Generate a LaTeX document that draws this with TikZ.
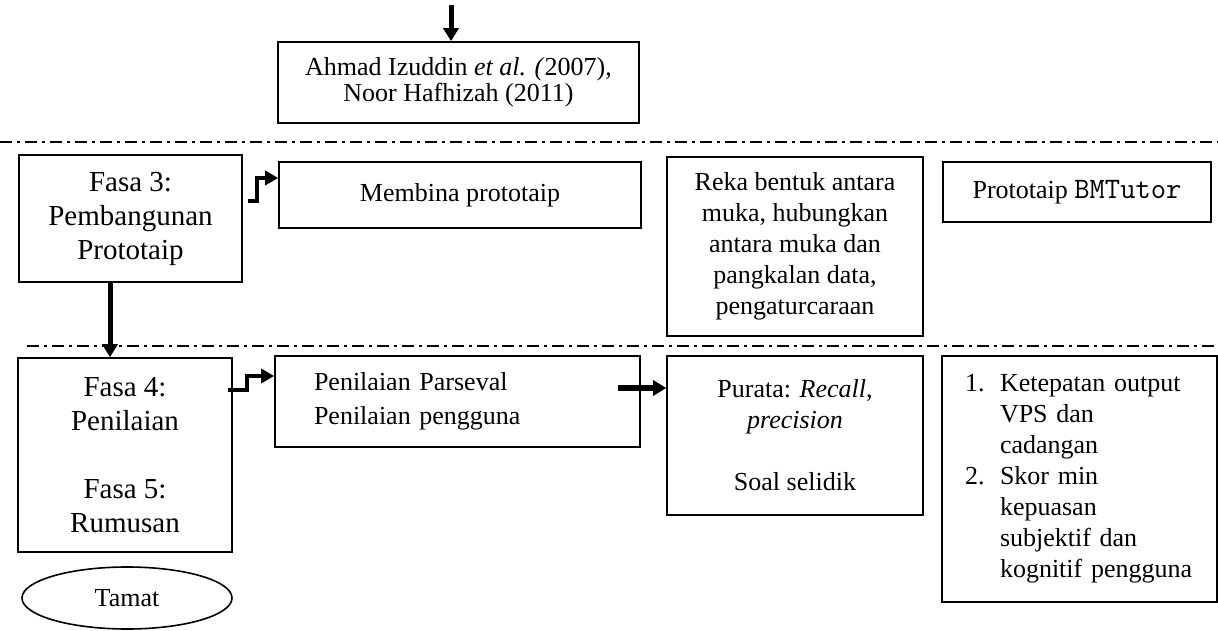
\documentclass[tikz,border=0pt]{standalone}
\usepackage{fontspec}
\setmainfont{Liberation Serif}
\usetikzlibrary{arrows.meta,shapes.geometric}
\begin{document}
\begin{tikzpicture}[x=1pt,y=-1pt,
  box/.style={draw,line width=1.6pt,inner sep=0pt,align=center,font=\fontsize{26}{31}\selectfont},
  phase/.style={box,font=\fontsize{29}{34}\selectfont},
  arr/.style={line width=5pt,-{Triangle[length=13pt,width=15pt]}},
  steparr/.style={line width=4.5pt,-{Triangle[length=13pt,width=14pt]}},
  divider/.style={line width=1.5pt,dash pattern=on 12pt off 5pt on 3pt off 5pt}]
\useasboundingbox (0,0) rectangle (1218,631);

% sources box
\node[box,font=\fontsize{26}{26}\selectfont,minimum width=361pt,minimum height=81pt] (src) at (458.5,82.5)
  {Ahmad Izuddin \textit{et al. (}2007),\\Noor Hafhizah (2011)};

% phase dividers
\coordinate (d1a) at (0,142);
\coordinate (d1b) at (1218,142);
\coordinate (d2a) at (27,346);
\coordinate (d2b) at (1218,346);
\draw[divider] (d1a) -- (d1b);
\draw[divider] (d2a) -- (d2b);

% phase 3 row
\node[phase,minimum width=223pt,minimum height=127pt] (f3) at (130.5,218.5)
  {Fasa 3:\\Pembangunan\\Prototaip};
\node[box,minimum width=362pt,minimum height=66pt] (mb) at (460,195) {Membina prototaip};
\node[box,minimum width=256pt,minimum height=179pt] (rk) at (795,246.5)
  {Reka bentuk antara\\muka, hubungkan\\antara muka dan\\pangkalan data,\\pengaturcaraan};
\node[box,minimum width=268pt,minimum height=60pt] (bm) at (1077,192)
  {Prototaip {\fontsize{29.7}{31}\ttfamily BMTutor}};

% phase 4/5 row
\node[phase,minimum width=214pt,minimum height=194pt] (f4) at (125,455)
  {Fasa 4:\\Penilaian\\[34pt]Fasa 5:\\Rumusan};
\node[box,font=\fontsize{26}{34}\selectfont,minimum width=365pt,minimum height=91pt,
      text width=287pt,inner xsep=39pt,align=left] (pn) at (457.5,401.5)
  {Penilaian Parseval\\Penilaian pengguna};
\node[box,minimum width=256pt,minimum height=159pt] (pr) at (795,435.5)
  {Purata: \textit{Recall},\\\textit{precision}\\[31pt]Soal selidik};
\node[box,minimum width=275pt,minimum height=246pt,text width=229pt,inner xsep=23pt,align=left] (ls) at (1079.5,479)
  {\makebox[35pt][l]{1.}Ketepatan output\\\hspace*{35pt}VPS dan\\\hspace*{35pt}cadangan\\
   \makebox[35pt][l]{2.}Skor min\\\hspace*{35pt}kepuasan\\\hspace*{35pt}subjektif dan\\\hspace*{35pt}kognitif pengguna};

% end terminal
\node[draw,ellipse,line width=1.6pt,minimum width=210pt,minimum height=62pt,inner sep=0pt,
      font=\fontsize{26}{31}\selectfont] (end) at (127,598) {Tamat};

% connectors
\coordinate (in) at (451,5);
\draw[arr] (in) -- (in |- src.north);
\draw[steparr] ([xshift=5pt,yshift=17.5pt]f3.east) -- ++(9,0) |- ([yshift=17pt]mb.west);
\draw[arr] ([xshift=-20.5pt]f3.south) -- ([xshift=-20.5pt]f3.south |- f4.north);
\draw[steparr] ([xshift=-5pt,yshift=65pt]f4.east) -- ++(19,0) |- ([yshift=25.5pt]pn.west);
\coordinate (pnout) at ([xshift=-23pt,yshift=13.5pt]pn.east);
\draw[arr,line width=6pt] (pnout) -- (pnout -| pr.west);
\end{tikzpicture}
\end{document}
